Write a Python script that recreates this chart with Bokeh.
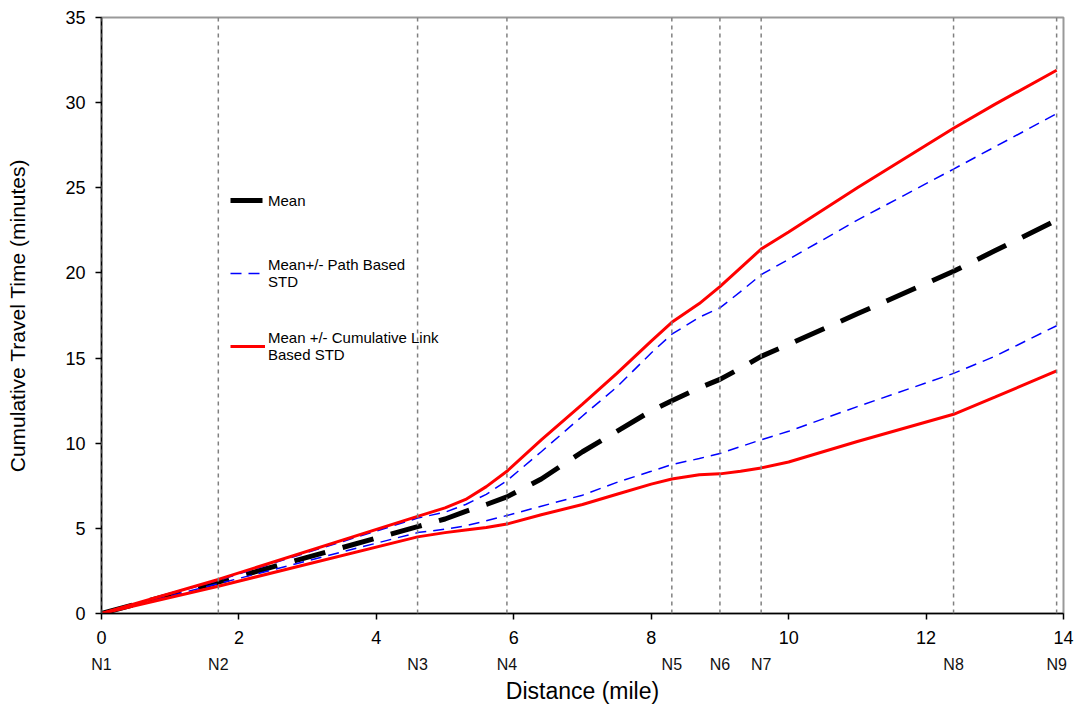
from bokeh.plotting import figure
from bokeh.models import Range1d, Legend, LegendItem, Span, LinearAxis, FixedTicker
from bokeh.embed import file_html
from bokeh.resources import INLINE

# Node positions (mile) and names
node_names = ["N1", "N2", "N3", "N4", "N5", "N6", "N7", "N8", "N9"]
node_dist = [0, 1.7, 4.6, 5.9, 8.3, 9.0, 9.6, 12.4, 13.9]

distance = [0, 1.7, 4.6, 5.0, 5.3, 5.6, 5.9, 6.4, 7.0, 7.5, 8.0, 8.3, 8.7, 9.0, 9.3, 9.6, 10.0, 11.0, 12.4, 13.0, 13.9]
mean_tt = [0, 1.85, 5.1, 5.55, 6.0, 6.4, 6.85, 7.9, 9.5, 10.7, 11.9, 12.5, 13.25, 13.75, 14.4, 15.1, 15.8, 17.6, 20.1, 21.3, 23.1]
path_upper = [0, 1.95, 5.6, 5.95, 6.4, 7.0, 7.8, 9.5, 11.6, 13.3, 15.3, 16.4, 17.4, 17.95, 18.9, 19.9, 20.8, 23.1, 26.1, 27.4, 29.35]
path_lower = [0, 1.75, 4.75, 4.95, 5.15, 5.45, 5.75, 6.3, 6.95, 7.7, 8.35, 8.75, 9.1, 9.4, 9.8, 10.2, 10.7, 12.15, 14.1, 15.1, 16.9]
link_upper = [0, 2.0, 5.7, 6.2, 6.7, 7.45, 8.35, 10.2, 12.3, 14.1, 16.0, 17.1, 18.2, 19.2, 20.3, 21.4, 22.4, 25.0, 28.5, 29.9, 31.9]
link_lower = [0, 1.6, 4.5, 4.75, 4.9, 5.05, 5.25, 5.8, 6.4, 7.0, 7.6, 7.9, 8.15, 8.2, 8.35, 8.55, 8.9, 10.1, 11.7, 12.7, 14.25]

x_ticks = [0, 2, 4, 6, 8, 10, 12, 14]
y_ticks = [0, 5, 10, 15, 20, 25, 30, 35]

FONT = "Liberation Sans"

p = figure(width=1076, height=706, output_backend="svg", toolbar_location=None,
           x_range=Range1d(0, 14), y_range=Range1d(0, 35),
           min_border_left=101, min_border_right=13, min_border_top=17, min_border_bottom=10)

p.xgrid.visible = False
p.ygrid.visible = False
p.outline_line_color = "#999999"
p.outline_line_width = 2

for ax in (p.xaxis[0], p.yaxis[0]):
    ax.axis_line_color = "black"
    ax.axis_line_width = 1.5
    ax.major_tick_line_color = "black"
    ax.major_tick_line_width = 1.5
    ax.major_tick_out = 6
    ax.major_tick_in = 0
    ax.minor_tick_line_color = None
    ax.major_label_text_font = FONT
    ax.major_label_text_font_size = "18px"
    ax.major_label_text_color = "black"
    ax.axis_label_text_font = FONT
    ax.axis_label_text_font_style = "normal"
    ax.axis_label_text_color = "black"

p.xaxis[0].ticker = FixedTicker(ticks=x_ticks)
p.yaxis[0].ticker = FixedTicker(ticks=y_ticks)
p.yaxis[0].axis_label = "Cumulative Travel Time (minutes)"
p.yaxis[0].axis_label_text_font_size = "21px"
p.xaxis[0].major_label_standoff = 11
p.yaxis[0].major_label_standoff = 10
p.yaxis[0].axis_label_standoff = 33

# Second bottom axis carrying the node names and the axis title
node_axis = LinearAxis(ticker=FixedTicker(ticks=node_dist),
                       major_label_overrides={d: n for d, n in zip(node_dist, node_names)},
                       axis_line_color=None, major_tick_line_color=None, minor_tick_line_color=None,
                       major_label_standoff=3,
                       major_label_text_font=FONT, major_label_text_font_size="16px",
                       major_label_text_color="#111111",
                       axis_label="Distance (mile)", axis_label_text_font=FONT,
                       axis_label_text_font_size="23px", axis_label_text_font_style="normal",
                       axis_label_text_color="black", axis_label_standoff=2)
p.add_layout(node_axis, "below")

# Node dotted lines
for d in node_dist:
    p.add_layout(Span(location=d, dimension="height", line_color="#808080",
                      line_width=1.5, line_dash="4 4"))

r_mean = p.line(distance, mean_tt, line_color="black", line_width=5, line_dash="32 18")
r_pu = p.line(distance, path_upper, line_color="#0000FF", line_width=1.5, line_dash="11 7")
r_pl = p.line(distance, path_lower, line_color="#0000FF", line_width=1.5, line_dash="11 7")
r_lu = p.line(distance, link_upper, line_color="#FF0000", line_width=3)
r_ll = p.line(distance, link_lower, line_color="#FF0000", line_width=3)

legend = Legend(items=[
    LegendItem(label="Mean", renderers=[r_mean]),
    LegendItem(label="Mean+/- Path Based\nSTD", renderers=[r_pu]),
    LegendItem(label="Mean +/- Cumulative Link\nBased STD", renderers=[r_lu]),
], location=(129, 250), spacing=39, padding=0, margin=0,
   glyph_width=35, glyph_height=20, label_height=34, label_standoff=3,
   label_text_font=FONT, label_text_font_size="15px", label_text_color="black",
   border_line_color=None, background_fill_alpha=0)
p.add_layout(legend)

open("out.html", "w").write(file_html(p, INLINE))
